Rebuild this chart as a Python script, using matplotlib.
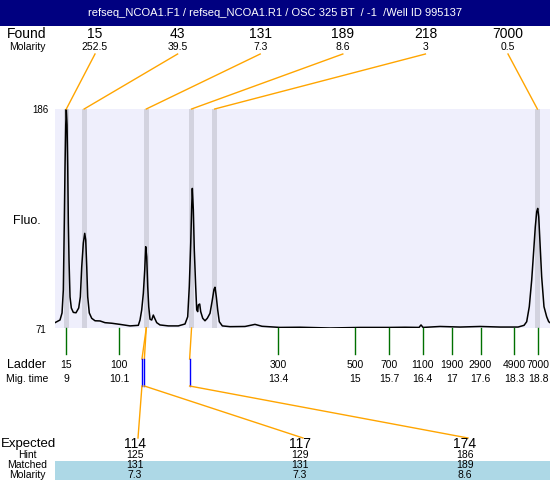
import numpy as np
import matplotlib
matplotlib.use("Agg")
import matplotlib.pyplot as plt
from matplotlib.patches import Rectangle

plt.rcParams['font.family'] = ['Liberation Sans', 'DejaVu Sans']

# ----------------- data -----------------
TITLE = "refseq_NCOA1.F1 / refseq_NCOA1.R1 / OSC 325 BT  / -1  /Well ID 995137"

# electropherogram trace: migration time (min) vs fluorescence
trace_t = [8.765, 8.869, 8.911, 8.938, 8.958, 8.973, 8.988, 9.000, 9.015, 9.029,
           9.042, 9.056, 9.077, 9.104, 9.145, 9.201, 9.257, 9.291, 9.320, 9.353,
           9.382, 9.403, 9.424, 9.444, 9.477, 9.527, 9.596, 9.700, 9.803, 9.943,
           10.115, 10.322, 10.495, 10.530, 10.565, 10.599, 10.628, 10.648, 10.669, 10.690,
           10.711, 10.738, 10.773, 10.806, 10.835, 10.877, 10.945, 11.118, 11.325, 11.464,
           11.520, 11.553, 11.583, 11.603, 11.616, 11.637, 11.657, 11.686, 11.707, 11.728,
           11.740, 11.769, 11.790, 11.832, 11.879, 11.927, 11.983, 12.031, 12.066, 12.087,
           12.114, 12.143, 12.176, 12.239, 12.398, 12.710, 12.917, 13.063, 13.437, 13.852,
           14.475, 15.098, 15.721, 16.032, 16.323, 16.364, 16.406, 16.759, 17.174, 17.590,
           18.005, 18.379, 18.503, 18.558, 18.612, 18.662, 18.695, 18.737, 18.766, 18.787,
           18.808, 18.835, 18.869, 18.917, 18.973, 19.015, 19.042]
trace_f = [73.8, 75.2, 78.9, 91.0, 126.1, 155.5, 177.6, 185.8, 177.6, 155.5,
           126.1, 106.7, 87.3, 81.5, 79.2, 79.0, 81.5, 87.3, 103.2, 115.6,
           120.7, 117.2, 103.2, 87.4, 78.9, 76.1, 74.8, 74.7, 73.8, 73.5,
           72.9, 72.1, 72.4, 75.2, 80.5, 89.2, 101.5, 113.7, 108.4, 92.7,
           82.2, 75.6, 75.2, 77.8, 76.1, 73.8, 72.6, 72.1, 72.1, 73.1,
           76.9, 92.7, 115.5, 134.7, 144.3, 133.0, 112.0, 92.7, 80.5, 79.6,
           83.1, 83.6, 79.6, 76.1, 74.8, 76.1, 78.7, 85.7, 91.3, 92.4,
           87.4, 80.5, 74.3, 72.1, 71.7, 71.8, 72.9, 71.9, 71.3, 71.4,
           71.0, 71.3, 71.3, 71.4, 71.3, 72.6, 71.3, 71.8, 71.5, 71.8,
           71.5, 71.5, 72.4, 74.3, 82.2, 96.2, 108.4, 124.2, 132.1, 133.8,
           129.4, 115.5, 97.9, 82.2, 76.9, 74.3, 73.8]

found_size = ["15", "43", "131", "189", "218", "7000"]
found_molarity = ["252.5", "39.5", "7.3", "8.6", "3", "0.5"]
found_mig = [9.00, 9.37, 10.66, 11.60, 12.08, 18.78]

ladder_size = ["15", "100", "300", "500", "700", "1100", "1900", "2900", "4900", "7000"]
ladder_mig = [9, 10.1, 13.4, 15, 15.7, 16.4, 17, 17.6, 18.3, 18.8]

expected = ["114", "117", "174"]
hint = ["125", "129", "186"]
matched = ["131", "131", "189"]
matched_molarity = ["7.3", "7.3", "8.6"]
matched_mig = [10.66, 10.66, 11.60]
expected_mig = [10.57, 10.62, 11.56]

Y_MIN, Y_MAX = 71, 186
# -----------------------------------------

W, H = 550, 480
ORANGE = "#FFA500"
fig = plt.figure(figsize=(W / 100, H / 100), dpi=100)

# trace panel (pixel box 55..550 x 109..328)
ax = fig.add_axes([55 / W, 1 - 328 / H, (W - 55) / W, (328 - 109) / H])
ax.set_facecolor("#EFEFFC")
ax.set_xlim(8.765, 19.042)
ax.set_ylim(Y_MIN, Y_MAX)
ax.set_xticks([]); ax.set_yticks([])
for s in ax.spines.values():
    s.set_visible(False)
for t in found_mig:
    ax.axvspan(t - 0.052, t + 0.052, color="#D3D3DF", lw=0)
ax.plot(trace_t, trace_f, color="black", lw=1.1)

# overlay in pixel coords for the annotations
ov = fig.add_axes([0, 0, 1, 1])
ov.set_xlim(0, W); ov.set_ylim(H, 0)
ov.axis("off")

def px(t):
    d = ax.transData.transform((t, Y_MIN))
    return ov.transData.inverted().transform(d)[0]

# title bar
ov.add_patch(Rectangle((0, 0), W, 26, color="#000080", lw=0))
ov.text(W / 2, 13.5, TITLE, color="white", fontsize=8, ha="center", va="center")

# found row
ov.text(27, 34, "Found", fontsize=10, ha="center", va="center")
ov.text(27, 47, "Molarity", fontsize=7.5, ha="center", va="center")
for i, (s, m, t) in enumerate(zip(found_size, found_molarity, found_mig)):
    lx = 95 + i * 82.6
    ov.text(lx, 34, s, fontsize=10, ha="center", va="center")
    ov.text(lx, 47, m, fontsize=7.5, ha="center", va="center")
    ov.plot([lx, px(t)], [54, 109], color=ORANGE, lw=1)

# y labels
ov.text(40.5, 110, str(Y_MAX), fontsize=7, ha="center", va="center")
ov.text(40.5, 330, str(Y_MIN), fontsize=7, ha="center", va="center")
ov.text(27, 221, "Fluo.", fontsize=9, ha="center", va="center")

# ladder
ov.text(27, 365.5, "Ladder", fontsize=9, ha="center", va="center")
ov.text(27, 379.5, "Mig. time", fontsize=7.5, ha="center", va="center")
for s, t in zip(ladder_size, ladder_mig):
    x = px(t)
    ov.plot([x, x], [328, 354], color="#007000", lw=1)
    ov.text(x, 365.5, s, fontsize=7.5, ha="center", va="center")
    ov.text(x, 379.5, f"{t:g}", fontsize=7.5, ha="center", va="center")

# expected / matched
ov.add_patch(Rectangle((55, 461), W - 55, H - 461, color="#ADD8E6", lw=0))
ov.text(1, 443.5, "Expected", fontsize=9.5, ha="left", va="center")
ov.text(27, 454.5, "Hint", fontsize=7.5, ha="center", va="center")
ov.text(27, 464.5, "Matched", fontsize=7.5, ha="center", va="center")
ov.text(27, 474.5, "Molarity", fontsize=7.5, ha="center", va="center")
for i, (e, h, m, mo) in enumerate(zip(expected, hint, matched, matched_molarity)):
    lx = 135 + i * 165
    ov.text(lx, 443.5, e, fontsize=10, ha="center", va="center")
    ov.text(lx, 454.5, h, fontsize=7.5, ha="center", va="center")
    ov.text(lx, 464.5, m, fontsize=7.5, ha="center", va="center")
    ov.text(lx, 474.5, mo, fontsize=7.5, ha="center", va="center")
    bx = px(expected_mig[i])
    ov.plot([px(matched_mig[i]), bx], [328, 359], color=ORANGE, lw=1)
    ov.plot([bx, bx], [359, 386], color="#0000FF", lw=1)
    ov.plot([bx, lx + 3], [386, 438], color=ORANGE, lw=1)

fig.savefig("out.png", dpi=100)
